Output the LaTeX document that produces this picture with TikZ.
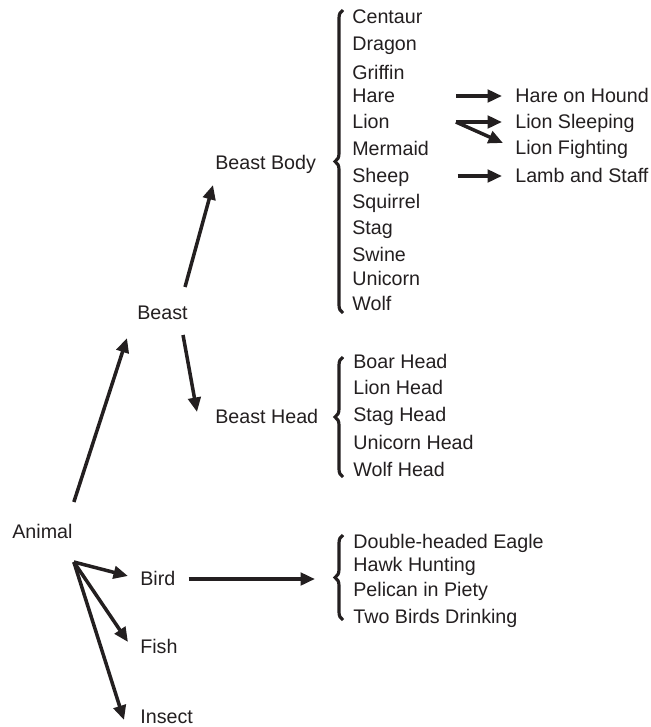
\documentclass[tikz,border=0pt]{standalone}
\usepackage{fontspec}
\setmainfont{Liberation Sans}
\usetikzlibrary{arrows.meta,decorations.pathreplacing}
\definecolor{inkblack}{HTML}{231F20}

\begin{document}
\begin{tikzpicture}[
    x=0.02cm, y=-0.02cm,
    font=\fontsize{11.2}{13}\selectfont,
    >={Triangle[length=2.9mm,width=2.5mm]},
    term/.style={
        anchor=west,
        inner sep=0pt,
        text height=0.72em,
        text depth=0pt,
        text=inkblack
    },
    branch/.style={
        ->,
        draw=inkblack,
        line width=2pt
    },
    group/.style={
        decorate,
        decoration={brace, amplitude=0.16cm},
        draw=inkblack,
        line width=1.8pt
    }
]
\useasboundingbox (0,0) rectangle (651,727);

% Main categories
\node[term] (animal) at (12,532) {Animal};
\node[term] (beast) at (137,313) {Beast};
\node[term] (body) at (215,163) {Beast Body};
\node[term] (head) at (215,417) {Beast Head};
\node[term] (bird) at (140,579) {Bird};
\node[term] (fish) at (140,647) {Fish};
\node[term] (insect) at (140,717) {Insect};

% Beast body charges
\foreach \name/\txt/\y in {centaur/Centaur/17, dragon/Dragon/44, griffin/Griffin/73,
    hare/Hare/96, lion/Lion/122, mermaid/Mermaid/149, sheep/Sheep/176,
    squirrel/Squirrel/202, stag/Stag/228, swine/Swine/255, unicorn/Unicorn/279,
    wolf/Wolf/304} {
    \node[term] (\name) at (352,\y) {\txt};
}

% Variants
\node[term] (hoh) at (515,96) {Hare on Hound};
\node[term] (lsl) at (515,122) {Lion Sleeping};
\node[term] (lfi) at (515,148) {Lion Fighting};
\node[term] (las) at (515,176) {Lamb and Staff};

% Beast heads
\foreach \name/\txt/\y in {boarh/Boar Head/362, lionh/Lion Head/388,
    stagh/Stag Head/415, unicornh/Unicorn Head/443, wolfh/Wolf Head/470} {
    \node[term] (\name) at (353,\y) {\txt};
}

% Birds
\foreach \name/\txt/\y in {eagle/Double-headed Eagle/542, hawk/Hawk Hunting/565,
    pelican/Pelican in Piety/590, twobirds/Two Birds Drinking/617} {
    \node[term] (\name) at (353,\y) {\txt};
}

% Braces
\draw[group] (343,313) -- (343,10);
\draw[group] (343,477) -- (343,357);
\draw[group] (343,620) -- (343,535);
\coordinate (birdbr) at (335,579);

% Branches
\draw[branch] ([shift={(1,-30)}]animal.east) -- ([shift={(-10,25)}]beast.west);
\draw[branch] ([shift={(1,30)}]animal.east) -- ([shift={(-12,-3)}]bird.west);
\draw[branch] ([shift={(1,30)}]animal.east) -- ([shift={(-12,-5)}]fish.west);
\draw[branch] ([shift={(1,30)}]animal.east) -- ([shift={(-16,3)}]insect.west);

\draw[branch] ([shift={(-3,-26)}]beast.east) -- ([shift={(-2,22)}]body.west);
\draw[branch] ([shift={(-5,22)}]beast.east) -- ([shift={(-18,-5)}]head.west);

\draw[branch] ([shift={(13,0)}]bird.east) -- ([shift={(-20,0)}]birdbr);

\draw[branch] ([shift={(61,0)}]hare.east) -- ([shift={(-13,0)}]hoh.west);
\draw[branch] ([shift={(66,0)}]lion.east) -- ([shift={(-13,0)}]lsl.west);
\draw[branch] ([shift={(66,0)}]lion.east) -- ([shift={(-12,-5)}]lfi.west);
\draw[branch] ([shift={(48,0)}]sheep.east) -- ([shift={(-13,0)}]las.west);

\end{tikzpicture}
\end{document}
